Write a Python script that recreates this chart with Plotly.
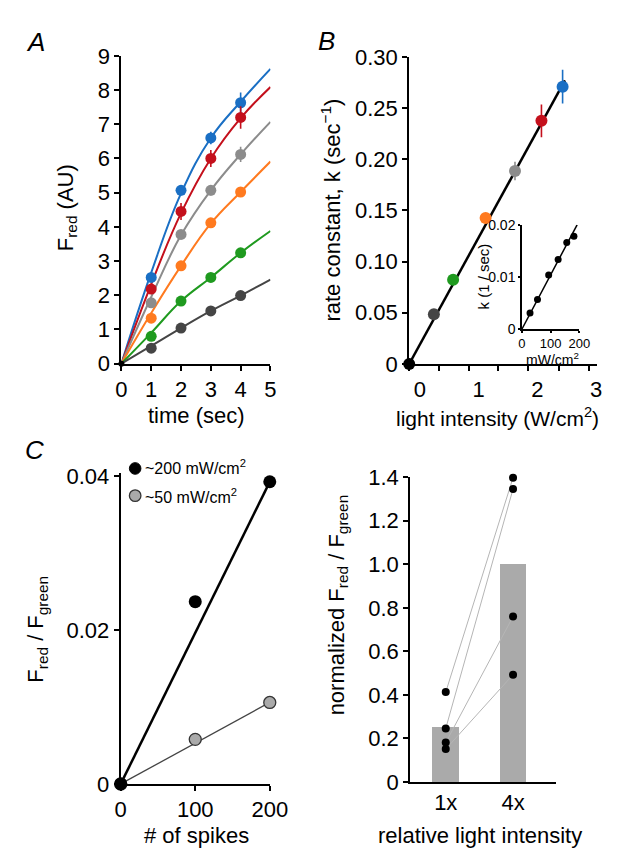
import plotly.graph_objects as go

W, H = 624, 853
FONT = "Liberation Sans, Arial, Helvetica, sans-serif"
TICK = 22
TITLE = 22

def X(px):
    return px / W

def Y(py):
    return 1 - py / H

# ---------------- Panel A data ----------------
t_pts = [1, 2, 3, 4]
t_fit = [0, 1, 2, 3, 4, 5]
a_colors = ["#1a6fc4", "#c4101c", "#8c8c8c", "#ff7a1f", "#1f9a1f", "#454545"]
a_blue = [2.52, 5.07, 6.60, 7.63]
a_red = [2.18, 4.45, 6.00, 7.20]
a_gray = [1.78, 3.78, 5.07, 6.12]
a_orange = [1.33, 2.86, 4.12, 5.02]
a_green = [0.80, 1.83, 2.52, 3.24]
a_dark = [0.45, 1.04, 1.54, 1.99]
a_blue_err = [0.12, 0.15, 0.18, 0.30]
a_red_err = [0.10, 0.25, 0.25, 0.33]
a_gray_err = [0.06, 0.10, 0.15, 0.22]
a_orange_err = [0.04, 0.05, 0.05, 0.05]
a_green_err = [0.03, 0.04, 0.04, 0.05]
a_dark_err = [0.03, 0.03, 0.03, 0.03]
fit_blue = [0, 2.66, 4.98, 6.60, 7.66, 8.62]
fit_red = [0, 2.32, 4.40, 6.00, 7.18, 8.09]
fit_gray = [0, 1.95, 3.76, 5.07, 6.12, 7.07]
fit_orange = [0, 1.48, 2.86, 4.10, 5.02, 5.91]
fit_green = [0, 0.90, 1.83, 2.52, 3.24, 3.88]
fit_dark = [0, 0.52, 1.04, 1.54, 1.99, 2.46]

# ---------------- Panel B data ----------------
b_x = [0.24, 0.567, 1.12, 1.62, 2.07, 2.43]
b_y = [0.0485, 0.0823, 0.1426, 0.1885, 0.2376, 0.2709]
b_err = [0.002, 0.002, 0.002, 0.009, 0.016, 0.0165]
b_colors = ["#454545", "#1f9a1f", "#ff7a1f", "#8c8c8c", "#c4101c", "#1a6fc4"]
b_origin_x = [-0.18]
b_origin_y = [0.0]
b_fit_x = [-0.18, 2.47]
b_fit_y = [0.0, 0.277]
b_ticks = [0, 1, 2, 3]
b_yticks = [0, 0.05, 0.10, 0.15, 0.20, 0.25, 0.30]
b_yticktext = ["0", "0.05", "0.10", "0.15", "0.20", "0.25", "0.30"]

# inset
in_x = [28, 54, 93, 126, 156, 181]
in_y = [0.0031, 0.0057, 0.0104, 0.0134, 0.0167, 0.0179]
in_fit_x = [0, 192]
in_fit_y = [0, 0.0201]

# ---------------- Panel C left ----------------
c_spikes = [0, 100, 200]
c_high = [0, 0.0237, 0.0393]
c_low = [0, 0.0058, 0.0106]
c_high_fit = [0, 0.0393]
c_low_fit = [0, 0.0106]
c_fit_x = [0, 200]
c_legend = ["~200 mW/cm<sup>2</sup>", "~50 mW/cm<sup>2</sup>"]

# ---------------- Panel C right ----------------
r_cats = ["1x", "4x"]
r_bar = [0.25, 1.0]
r_1x = [0.413, 0.246, 0.181, 0.151]
r_4x = [1.398, 1.346, 0.760, 0.493]
r_yticks = [0, 0.2, 0.4, 0.6, 0.8, 1.0, 1.2, 1.4]
r_yticktext = ["0", "0.2", "0.4", "0.6", "0.8", "1.0", "1.2", "1.4"]

fig = go.Figure()

# Panel A
series = [(a_blue, a_blue_err, fit_blue), (a_red, a_red_err, fit_red),
          (a_gray, a_gray_err, fit_gray), (a_orange, a_orange_err, fit_orange),
          (a_green, a_green_err, fit_green), (a_dark, a_dark_err, fit_dark)]
for col, (pts, err, fit) in zip(a_colors, series):
    fig.add_trace(go.Scatter(x=t_fit, y=fit, mode="lines",
                             line=dict(color=col, width=2, shape="spline", smoothing=1.2),
                             xaxis="x", yaxis="y", showlegend=False, hoverinfo="skip"))
for col, (pts, err, fit) in zip(a_colors, series):
    fig.add_trace(go.Scatter(x=t_pts, y=pts, mode="markers", marker=dict(color=col, size=11),
                             error_y=dict(type="data", array=err, color=col, thickness=1.6, width=0),
                             xaxis="x", yaxis="y", showlegend=False, cliponaxis=False))
fig.add_trace(go.Scatter(x=[0], y=[0], mode="markers", marker=dict(color="black", size=6),
                         xaxis="x", yaxis="y", showlegend=False, cliponaxis=False))

# Panel B
fig.add_trace(go.Scatter(x=b_fit_x, y=b_fit_y, mode="lines", line=dict(color="black", width=2.5),
                         xaxis="x2", yaxis="y2", showlegend=False))
for xv, yv, ev, col in zip(b_x, b_y, b_err, b_colors):
    fig.add_trace(go.Scatter(x=[xv], y=[yv], mode="markers", marker=dict(color=col, size=12),
                             error_y=dict(type="data", array=[ev], color=col, thickness=1.6, width=0),
                             xaxis="x2", yaxis="y2", showlegend=False, cliponaxis=False))
fig.add_trace(go.Scatter(x=b_origin_x, y=b_origin_y, mode="markers", marker=dict(color="black", size=12),
                         xaxis="x2", yaxis="y2", showlegend=False, cliponaxis=False))

# Inset
fig.add_trace(go.Scatter(x=in_fit_x, y=in_fit_y, mode="lines", line=dict(color="black", width=1.5),
                         xaxis="x3", yaxis="y3", showlegend=False, cliponaxis=False))
fig.add_trace(go.Scatter(x=in_x, y=in_y, mode="markers", marker=dict(color="black", size=7),
                         xaxis="x3", yaxis="y3", showlegend=False, cliponaxis=False))

# Panel C left
fig.add_trace(go.Scatter(x=c_fit_x, y=c_high_fit, mode="lines", line=dict(color="black", width=2.5),
                         xaxis="x4", yaxis="y4", showlegend=False, cliponaxis=False))
fig.add_trace(go.Scatter(x=c_fit_x, y=c_low_fit, mode="lines", line=dict(color="#444", width=1.3),
                         xaxis="x4", yaxis="y4", showlegend=False, cliponaxis=False))
fig.add_trace(go.Scatter(x=c_spikes, y=c_low, mode="markers",
                         marker=dict(color="#aaaaaa", size=12, line=dict(color="#333", width=1.3)),
                         xaxis="x4", yaxis="y4", showlegend=False, cliponaxis=False))
fig.add_trace(go.Scatter(x=c_spikes, y=c_high, mode="markers", marker=dict(color="black", size=13),
                         xaxis="x4", yaxis="y4", showlegend=False, cliponaxis=False))

# Panel C right
fig.add_trace(go.Bar(x=[0, 1], y=r_bar, width=0.39, marker=dict(color="#aaaaaa", line=dict(width=0)),
                     xaxis="x5", yaxis="y5", showlegend=False))
for a, b in zip(r_1x, r_4x):
    fig.add_trace(go.Scatter(x=[0, 1], y=[a, b], mode="lines", line=dict(color="#b5b5b5", width=1),
                             xaxis="x5", yaxis="y5", showlegend=False))
fig.add_trace(go.Scatter(x=[0] * len(r_1x) + [1] * len(r_4x), y=r_1x + r_4x, mode="markers",
                         marker=dict(color="black", size=8), xaxis="x5", yaxis="y5",
                         showlegend=False, cliponaxis=False))


def axis(domain, rng, anchor, size=TICK, lw=2, tl=5, **kw):
    d = dict(domain=domain, range=rng, anchor=anchor, showline=True, linecolor="black", linewidth=lw,
             ticks="outside", ticklen=tl, tickwidth=lw, tickcolor="black", showgrid=False, zeroline=False,
             tickfont=dict(size=size, family=FONT, color="black"), fixedrange=True)
    d.update(kw)
    return d


layout = dict(
    width=W, height=H, margin=dict(l=0, r=0, t=0, b=0), autosize=False,
    paper_bgcolor="white", plot_bgcolor="white", font=dict(family=FONT, color="black"),
    xaxis=axis([X(111.7), X(266.7)], [0, 5], "y", tickvals=[0, 1, 2, 3, 4, 5]),
    yaxis=axis([Y(354), Y(37)], [0, 9], "x", tickvals=list(range(10))),
    xaxis2=axis([X(411), X(606)], [-0.18, 3.01], "y2", tickvals=b_ticks, tickcolor="rgba(0,0,0,0)",
                minor=dict(tickvals=[-0.18, 0.327, 0.833, 1.324, 1.846, 2.37, 2.876], ticks="outside",
                           ticklen=5, tickwidth=2, tickcolor="black")),
    yaxis2=axis([Y(354.3), Y(38)], [0, 0.30], "x2", tickvals=b_yticks, ticktext=b_yticktext),
    xaxis3=axis([X(528.3), X(588)], [0, 200], "y3", size=13, lw=1.5, tl=2, tickvals=[0, 100, 200]),
    yaxis3=axis([Y(318.3), Y(211)], [0, 0.0201], "x3", size=14, lw=1.5, tl=2, tickvals=[0, 0.01, 0.02],
                ticktext=["0", "0.01", "0.02"]),
    xaxis4=axis([X(111), X(266)], [0, 200], "y4", tickvals=[0, 100, 200]),
    yaxis4=axis([Y(787), Y(467)], [0, 0.0404], "x4", tickvals=[0, 0.02, 0.04], ticktext=["0", "0.02", "0.04"]),
    xaxis5=axis([X(412), X(564)], [-0.529, 1.643], "y5", tickvals=[0, 1], ticktext=r_cats, ticks=""),
    yaxis5=axis([Y(785), Y(471)], [0, 1.4], "x5", tickvals=r_yticks, ticktext=r_yticktext),
    bargap=0,
)
fig.update_layout(**layout)

ann = []

def text(px, py, s, size=TITLE, angle=0, italic=False, xanchor="center"):
    if italic:
        s = "<i>" + s + "</i>"
    ann.append(dict(x=X(px), y=Y(py), xref="paper", yref="paper", text=s, showarrow=False,
                    textangle=angle, xanchor=xanchor, yanchor="middle",
                    font=dict(size=size, family=FONT, color="black")))

text(22, 23, "A", size=26, italic=True)
text(325, 22, "B", size=26, italic=True)
text(21, 443, "C", size=26, italic=True)
text(55, 193, "F<sub>red</sub> (AU)", angle=-90)
text(190, 407, "time (sec)")
text(330, 196, "rate constant, k (sec<sup>\u22121</sup>)", angle=-90)
text(503, 409, "light intensity (W/cm<sup>2</sup>)", size=21)
text(488, 264, "k (1 / sec)", size=15, angle=-90)
text(560, 349, "mW/cm<sup>2</sup>", size=14)
text(24, 628, "F<sub>red</sub> / F<sub>green</sub>", angle=-90)
text(190, 840, "# of spikes")
text(337, 603, "normalized F<sub>red</sub> / F<sub>green</sub>", angle=-90)
text(485, 840, "relative light intensity")
text(134, 461, c_legend[0], size=16, xanchor="left")
text(134, 490, c_legend[1], size=16, xanchor="left")

shapes = [
    dict(type="circle", xref="paper", yref="paper", x0=X(120), x1=X(132), y0=Y(468), y1=Y(456),
         fillcolor="black", line=dict(color="black", width=1)),
    dict(type="circle", xref="paper", yref="paper", x0=X(120), x1=X(132), y0=Y(496), y1=Y(484),
         fillcolor="#aaaaaa", line=dict(color="#333", width=1.3)),
]
fig.update_layout(annotations=ann, shapes=shapes)

fig.write_html("out.html")
